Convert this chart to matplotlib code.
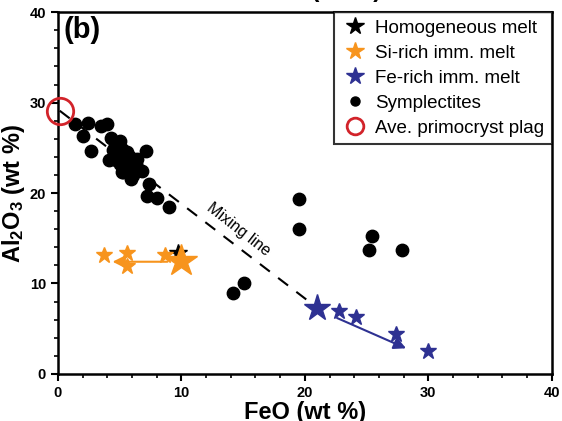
import numpy as np
import matplotlib
matplotlib.use('Agg')
import matplotlib.pyplot as plt

plt.rcParams['font.family'] = ['Liberation Sans', 'DejaVu Sans']
plt.rcParams['mathtext.fontset'] = 'custom'
plt.rcParams['mathtext.rm'] = 'Liberation Sans'
plt.rcParams['mathtext.bf'] = 'Liberation Sans:bold'
plt.rcParams['mathtext.default'] = 'bf'

# symplectite analyses (FeO, Al2O3)
sym_feo = [1.4, 2.4, 2.0, 2.7, 3.5, 4.0, 4.3, 5.0, 4.1, 7.1, 5.2, 5.9, 6.8, 7.4, 7.2, 8.0, 9.0,
           4.6, 4.5, 5.2, 5.6, 4.8, 5.4, 6.0, 5.0, 5.7, 6.3, 6.6, 5.3, 6.1, 4.7, 5.8, 6.4,
           14.2, 15.1, 19.5, 19.5, 25.4, 25.2, 27.9]
sym_al = [27.6, 27.8, 26.3, 24.7, 27.4, 27.6, 26.1, 25.7, 23.7, 24.7, 22.3, 21.5, 22.4, 21.0, 19.7, 19.5, 18.5,
          25.4, 24.8, 24.9, 24.5, 24.2, 23.9, 23.7, 23.2, 23.0, 23.2, 22.6, 22.3, 22.0, 23.6, 24.0, 23.8,
          8.9, 10.1, 19.3, 16.0, 15.2, 13.7, 13.7]

homo_feo = [9.7]
homo_al = [13.4]

si_feo = [3.7, 5.6, 5.6, 8.7]
si_al = [13.2, 13.4, 11.9, 13.1]
si_big = (10.0, 12.5)
si_arrow = [(9.1, 12.4), (4.2, 12.4)]

fe_feo = [22.8, 24.1, 27.4, 30.0]
fe_al = [6.9, 6.3, 4.4, 2.5]
fe_big = (21.0, 7.3)
fe_arrow = [(22.4, 6.3), (28.4, 2.7)]

plag = (0.15, 29.1)

orange = '#F7941D'
blue = '#2E3192'
red = '#D2232A'

fig = plt.figure(figsize=(5.62, 4.21), dpi=100)
ax = fig.add_axes([0.103, 0.112, 0.879, 0.859])

# mixing line from plagioclase to Fe-rich melt
ax.plot([plag[0], fe_big[0]], [plag[1], fe_big[1]], color='black', lw=1.5,
        dashes=(6, 5), zorder=1)
ax.text(14.6, 16.0, 'Mixing line', rotation=-38, ha='center', va='center', fontsize=11.5)

ax.scatter(sym_feo, sym_al, s=80, color='black', zorder=3)
ax.plot(homo_feo, homo_al, '*', color='black', ms=13, zorder=4)

ax.plot(si_feo, si_al, '*', color=orange, ms=12, zorder=4, ls='none')
ax.plot(*si_big, '*', color=orange, ms=24, zorder=5)
ax.annotate('', xy=si_arrow[1], xytext=si_arrow[0],
            arrowprops=dict(arrowstyle='-|>', color=orange, lw=1.5, mutation_scale=18), zorder=4)

ax.plot(fe_feo, fe_al, '*', color=blue, ms=12, zorder=4, ls='none')
ax.plot(*fe_big, '*', color=blue, ms=20, zorder=5)
ax.annotate('', xy=fe_arrow[1], xytext=fe_arrow[0],
            arrowprops=dict(arrowstyle='-|>', color=blue, lw=1.5, mutation_scale=18), zorder=4)

ax.plot(*plag, 'o', mfc='none', mec=red, mew=2, ms=19, clip_on=False, zorder=6)

ax.set_xlim(0, 40)
ax.set_ylim(0, 40)
ax.set_xticks([0, 10, 20, 30, 40])
ax.set_yticks([0, 10, 20, 30, 40])
ax.set_xticks(np.arange(0, 41, 2), minor=True)
ax.set_yticks(np.arange(0, 41, 2), minor=True)
ax.tick_params(which='major', direction='out', length=5, width=1.5, labelsize=10.5)
ax.tick_params(which='minor', direction='out', length=3, width=1.2)
for lab in ax.get_xticklabels() + ax.get_yticklabels():
    lab.set_fontweight('bold')
for sp in ax.spines.values():
    sp.set_linewidth(1.8)

ax.set_xlabel('FeO (wt %)', fontsize=17, fontweight='bold', labelpad=1)
ax.set_ylabel('Al$_2$O$_3$ (wt %)', fontsize=17, fontweight='bold', labelpad=2)
ax.text(0.012, 0.99, '(b)', transform=ax.transAxes, fontsize=21, fontweight='bold',
        ha='left', va='top')

# cut-off label of the upper panel
fig.text(0.57, 1.006, 'FeO (wt %)', fontsize=17, fontweight='bold', ha='center', va='baseline')

handles = [
    plt.Line2D([], [], marker='*', color='black', ls='none', ms=13),
    plt.Line2D([], [], marker='*', color=orange, ls='none', ms=13),
    plt.Line2D([], [], marker='*', color=blue, ls='none', ms=13),
    plt.Line2D([], [], marker='o', color='black', ls='none', ms=6.5),
    plt.Line2D([], [], marker='o', mfc='none', mec=red, mew=2, ls='none', ms=12),
]
labels = ['Homogeneous melt', 'Si-rich imm. melt', 'Fe-rich imm. melt', 'Symplectites',
          'Ave. primocryst plag']
leg = ax.legend(handles, labels, loc='upper right', fontsize=13.5, frameon=True, fancybox=False,
                edgecolor='black', borderaxespad=0, handletextpad=0.4, handlelength=1.4,
                labelspacing=0.42, borderpad=0.4)
leg.get_frame().set_linewidth(1.5)

fig.savefig('out.png', dpi=100)
